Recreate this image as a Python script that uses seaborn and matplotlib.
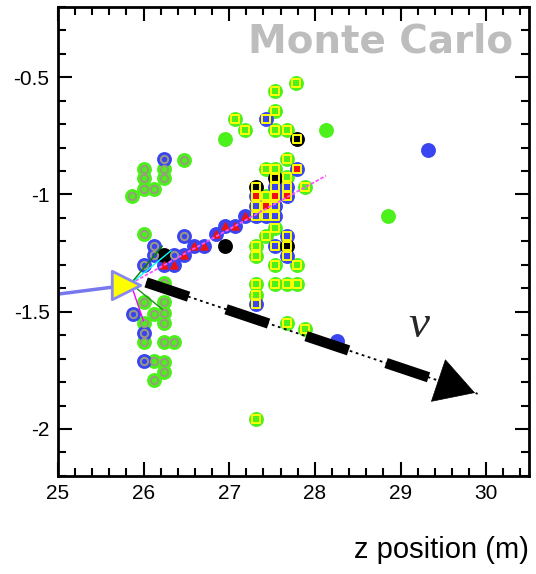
import numpy as np
import pandas as pd
from matplotlib import pyplot as plt
from matplotlib.ticker import MultipleLocator
import seaborn as sns

# hits, by drawing style (z in m, vertical position)
green_grey_z = [26.0, 26.0, 26.0, 26.12, 26.24, 26.24, 26.47, 25.87, 26.0, 26.0, 26.0, 26.0,
                26.12, 26.24, 26.24, 26.24, 26.24, 26.24, 26.24, 26.36, 26.12, 26.12, 26.24]
green_grey_y = [-0.89, -0.93, -0.975, -0.975, -0.89, -0.93, -0.855, -1.008, -1.17, -1.46, -1.547, -1.63,
                -1.508, -1.46, -1.504, -1.547, -1.63, -1.716, -1.758, -1.63, -1.71, -1.79, -1.377]

blue_grey_z = [26.24, 26.12, 26.12, 26.47, 26.0, 26.36, 25.88, 26.0, 26.0]
blue_grey_y = [-0.847, -1.22, -1.26, -1.175, -1.30, -1.26, -1.508, -1.71, -1.59]

track_hit_z = [26.24, 26.36, 26.47, 26.59, 26.71, 26.84, 26.95, 27.07, 27.19]
track_hit_y = [-1.30, -1.30, -1.26, -1.22, -1.22, -1.17, -1.135, -1.135, -1.093]

green_yellow_z = [27.07, 27.19, 27.54, 27.78, 27.54, 27.54, 27.67, 27.54, 27.67, 27.67, 27.43, 27.43,
                  27.89, 27.31, 27.31, 27.31, 27.31, 27.43, 27.54, 27.54, 27.54, 27.67, 27.67, 27.79,
                  27.79, 27.89, 27.31]
green_yellow_y = [-0.68, -0.725, -0.56, -0.523, -0.643, -0.725, -0.725, -0.89, -0.847, -0.924, -0.89, -1.008,
                  -0.97, -1.22, -1.264, -1.38, -1.427, -1.175, -1.141, -1.30, -1.38, -1.38, -1.547, -1.30,
                  -1.38, -1.575, -1.958]

blue_yellow_z = [27.43, 27.31, 27.31, 27.54, 27.54, 27.54, 27.67, 27.43, 27.54, 27.67, 27.67, 27.31]
blue_yellow_y = [-0.68, -1.05, -1.093, -0.97, -1.05, -1.09, -0.97, -1.093, -1.22, -1.175, -1.264, -1.466]

red_yellow_z = [27.31, 27.54, 27.67, 27.43, 27.79]
red_yellow_y = [-1.008, -1.008, -1.008, -1.05, -0.89]

black_yellow_z = [27.31, 27.54, 27.79, 27.67]
black_yellow_y = [-0.97, -0.928, -0.763, -1.22]

green_z = [26.95, 28.13, 28.85]
green_y = [-0.763, -0.725, -1.093]
blue_z = [29.32, 28.26]
blue_y = [-0.81, -1.627]
black_z = [26.95, 26.24]
black_y = [-1.22, -1.26]

# tracks
beam_z = [25.0, 25.75]
beam_y = [-1.425, -1.39]
fit_z = [25.85, 28.13]
fit_y = [-1.38, -0.92]
short_tracks = {
    'cyan': ([25.85, 26.32], [-1.38, -1.24]),
    'green': ([25.85, 26.22], [-1.38, -1.22]),
    'magenta': ([25.85, 26.0], [-1.38, -1.54]),
    'forestgreen': ([25.85, 26.22], [-1.38, -1.49]),
}
vertex_z = [25.8]
vertex_y = [-1.385]
nu_z = [26.03, 29.9]
nu_y = [-1.375, -1.85]

GREEN = '#4cf01a'
BLUE = '#3a44f0'
GREY = '#9a9a80'
YELLOW = '#ffff00'
RED = '#ee1111'

sns.set_style('white')
plt.rcParams['font.family'] = ['Liberation Sans', 'DejaVu Sans']

fig = plt.figure(figsize=(5.36, 5.74), dpi=100)
ax = fig.add_axes([0.108, 0.171, 0.879, 0.817])


def hits(z, y, outer, inner_face, inner_edge, inner_marker='o', inner_size=28):
    df = pd.DataFrame({'z': z, 'y': y})
    sns.scatterplot(data=df, x='z', y='y', ax=ax, marker='o', s=115, color=outer,
                    edgecolor=outer, linewidth=0, zorder=3)
    if inner_face is not None:
        sns.scatterplot(data=df, x='z', y='y', ax=ax, marker=inner_marker, s=inner_size,
                        color=inner_face, edgecolor=inner_edge, linewidth=1.4, zorder=4)


hits(green_grey_z, green_grey_y, GREEN, GREEN, GREY)
hits(blue_grey_z, blue_grey_y, BLUE, BLUE, GREY)
hits(green_yellow_z, green_yellow_y, GREEN, GREEN, YELLOW, 's', 40)
hits(blue_yellow_z, blue_yellow_y, BLUE, BLUE, YELLOW, 's', 40)
hits(red_yellow_z, red_yellow_y, BLUE, RED, YELLOW, 's', 40)
hits(black_yellow_z, black_yellow_y, 'black', 'black', YELLOW, 's', 40)
hits(track_hit_z, track_hit_y, BLUE, RED, RED, '^', 22)
hits(green_z, green_y, GREEN, None, None)
hits(blue_z, blue_y, BLUE, None, None)
hits(black_z, black_y, 'black', None, None)

# tracks
ax.plot(beam_z, beam_y, color='#7777ee', lw=2.5, zorder=2)
ax.plot(fit_z, fit_y, color='#ff55ff', lw=1.3, ls=(0, (2, 1)), zorder=5)
for c, (tz, ty) in short_tracks.items():
    ax.plot(tz, ty, color=c, lw=1, zorder=5)
ax.scatter(vertex_z, vertex_y, marker='>', s=420, color=YELLOW, edgecolor='#8888ee',
           linewidth=2, zorder=6)

# neutrino direction
ax.plot(nu_z, nu_y, color='black', lw=1.3, ls=(0, (1.5, 2)), zorder=6)
dz = nu_z[1] - nu_z[0]
dy = nu_y[1] - nu_y[0]
ax.plot([nu_z[0], nu_z[0] + 0.88 * dz], [nu_y[0], nu_y[0] + 0.88 * dy], color='black', lw=7.5,
        ls=(0, (4.3, 3.8)), solid_capstyle='butt', dash_capstyle='butt', zorder=7)
ax.annotate('', xy=(nu_z[1], nu_y[1]), xytext=(nu_z[0] + 0.9 * dz, nu_y[0] + 0.9 * dy),
            arrowprops=dict(arrowstyle='-|>,head_length=1.3,head_width=0.75', color='black',
                            lw=0.5, mutation_scale=21), zorder=8)
ax.text(29.21, -1.56, 'ν', fontsize=34, style='italic', family=['Liberation Serif', 'DejaVu Serif'],
        ha='center', va='center')

ax.text(0.966, 0.966, 'Monte Carlo', transform=ax.transAxes, ha='right', va='top',
        fontsize=28, fontweight='bold', color='#bdbdbd', family=['DejaVu Sans'])

ax.set_xlim(25, 30.5)
ax.set_ylim(-2.2, -0.2)
ax.xaxis.set_major_locator(MultipleLocator(1))
ax.xaxis.set_minor_locator(MultipleLocator(0.2))
ax.yaxis.set_major_locator(MultipleLocator(0.5))
ax.yaxis.set_minor_locator(MultipleLocator(0.1))
ax.set_xticks([25, 26, 27, 28, 29, 30])
ax.set_xticklabels(['25', '26', '27', '28', '29', '30'])
ax.set_yticks([-2, -1.5, -1, -0.5])
ax.set_yticklabels(['-2', '-1.5', '-1', '-0.5'])
ax.tick_params(which='both', direction='in', top=True, right=True, bottom=True, left=True,
               width=1.5, color='black', labelcolor='black', labelsize=15, pad=6)
ax.tick_params(which='major', length=10)
ax.tick_params(which='minor', length=6)
for s in ax.spines.values():
    s.set_linewidth(2)
    s.set_color('black')
ax.set_xlabel('')
ax.set_ylabel('')
fig.text(0.987, 0.042, 'z position (m)', ha='right', va='center', fontsize=21, color='black')

fig.savefig('out.png', dpi=100)
